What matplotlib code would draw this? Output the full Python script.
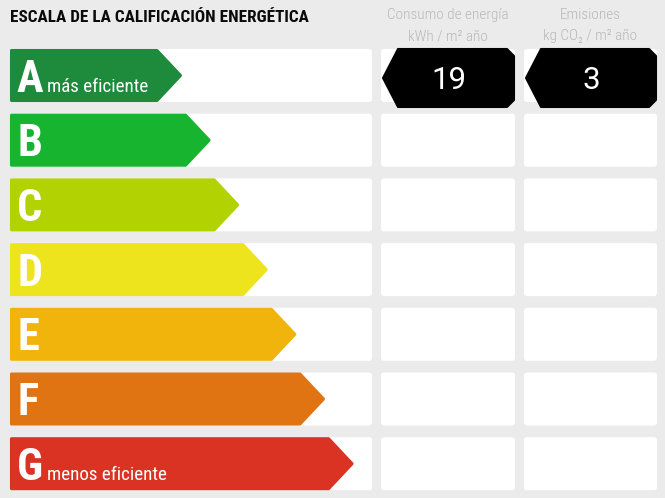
import matplotlib
matplotlib.use('Agg')
import matplotlib.pyplot as plt
from matplotlib.patches import Polygon, FancyBboxPatch

# data
classes = ['A', 'B', 'C', 'D', 'E', 'F', 'G']
notes = ['más eficiente', '', '', '', '', '', 'menos eficiente']
title = 'ESCALA DE LA CALIFICACIÓN ENERGÉTICA'
col_heads = [['Consumo de energía', 'kWh / m² año'],
             ['Emisiones', 'kg CO₂ / m² año']]
rated = ['A', 'A']      # class of consumption, emissions
values = [19, 3]

class_colors = ['#1d8b3b', '#16b42f', '#b2d201', '#eee41d',
                '#f1b40d', '#e07413', '#da3324']

cond = ['Roboto Condensed', 'DejaVu Sans']
plain = ['Roboto', 'DejaVu Sans']

W, H = 665, 498
fig = plt.figure(figsize=(W / 100, H / 100), dpi=100)
fig.patch.set_facecolor('#ebebeb')
ax = fig.add_axes([0, 0, 1, 1])
ax.set_xlim(0, W); ax.set_ylim(H, 0)
ax.axis('off')

top0 = 49; pitch = 64.7; rh = 53
boxes = [(10, 372), (381, 515), (524, 657)]

ax.text(10, 22, title, fontsize=12.3, weight='bold', color='#0a0a0a', family=cond)
for j, (a, b) in enumerate(col_heads):
    x0, x1 = boxes[j + 1]
    xc = (x0 + x1) / 2
    ax.text(xc, 19, a, fontsize=11, weight='light', color='#b8b8b8', ha='center', family=cond)
    ax.text(xc, 40, b, fontsize=11, weight='light', color='#b8b8b8', ha='center', family=cond)

for i, c in enumerate(classes):
    y = top0 + i * pitch
    for x0, x1 in boxes:
        ax.add_patch(FancyBboxPatch((x0, y), x1 - x0, rh,
                                    boxstyle='round,pad=0,rounding_size=3',
                                    fc='white', ec='none'))
    x0 = boxes[0][0]
    tip = 182 + i * 28.6
    sl = 25
    pts = [(x0 + 1.5, y + 1.5), (tip - sl, y + 1.5), (tip - 1.5, y + rh / 2),
           (tip - sl, y + rh - 1.5), (x0 + 1.5, y + rh - 1.5)]
    ax.add_patch(Polygon(pts, closed=True, fc=class_colors[i], ec=class_colors[i],
                         lw=2.2, joinstyle='round'))
    ax.text(17, y + 42.5, c, fontsize=32, weight='bold', color='white', family=cond)
    if notes[i]:
        ax.text(47, y + 43, notes[i], fontsize=13.7, color='white', family=cond)

    for j, r in enumerate(rated):
        if r != c:
            continue
        bx0, bx1 = boxes[j + 1]
        bx0 += 2; bx1 -= 1
        yc = y + 29
        hh = 29
        pts = [(bx0, yc), (bx0 + 15, yc - hh), (bx1 - 7, yc - hh), (bx1, yc - hh + 7),
               (bx1, yc + hh - 7), (bx1 - 7, yc + hh), (bx0 + 15, yc + hh)]
        ax.add_patch(Polygon(pts, closed=True, fc='black', ec='black', lw=1.5,
                             joinstyle='round'))
        ax.text((bx0 + bx1) / 2, yc + 10.5, str(values[j]), fontsize=22.5,
                color='white', ha='center', va='baseline', family=plain)

fig.savefig('out.png', dpi=100, facecolor=fig.get_facecolor())
print('Saved out.png')
